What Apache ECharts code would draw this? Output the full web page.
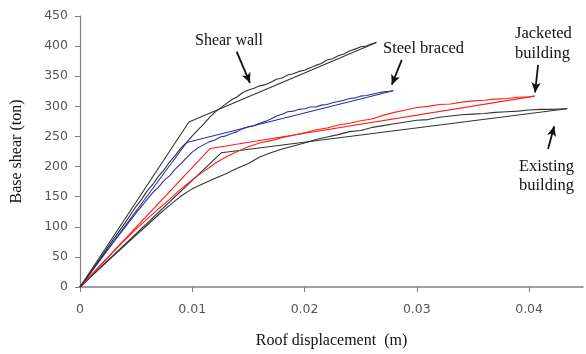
<!DOCTYPE html>
<html><head><meta charset="utf-8">
<script src="https://cdn.jsdelivr.net/npm/echarts@6/dist/echarts.min.js"></script>
<style>html,body{margin:0;padding:0;background:#fff}#c{width:586px;height:354px}</style>
</head><body><div id="c"></div>
<script>
const xTicks = [0, 0.01, 0.02, 0.03, 0.04];
const yTicks = [0, 50, 100, 150, 200, 250, 300, 350, 400, 450];

const shearWallBilinear = [[0,0],[0.0097,274],[0.0264,406]];
const shearWallCurve = [[0,0],[0.001,26],[0.002,53],[0.003,80],[0.004,106],[0.005,134],[0.0055,146],[0.006,160],[0.0065,171],[0.007,184],[0.0075,195],[0.008,208],[0.0085,219],[0.009,231],[0.0095,240],[0.010,251],[0.0105,261],[0.011,270],[0.0115,281],[0.012,290],[0.0125,297],[0.013,304],[0.0135,311],[0.014,316],[0.0145,323],[0.015,327],[0.0155,330],[0.016,334],[0.0165,336],[0.017,340],[0.0175,345],[0.018,347],[0.0185,352],[0.019,354],[0.0195,358],[0.020,360],[0.0205,364],[0.021,368],[0.0215,371],[0.022,377],[0.0225,379],[0.023,384],[0.0235,387],[0.024,392],[0.0245,395],[0.025,399],[0.0255,400],[0.026,404],[0.0264,406]];

const steelBilinear = [[0,0],[0.0095,240],[0.0279,326]];
const steelCurve = [[0,0],[0.001,25],[0.002,50],[0.003,75],[0.004,99],[0.005,123],[0.006,146],[0.0065,157],[0.007,166],[0.0075,177],[0.008,185],[0.0085,196],[0.009,205],[0.0095,215],[0.010,224],[0.0105,231],[0.011,236],[0.0115,241],[0.012,244],[0.0125,249],[0.013,251],[0.0135,255],[0.014,258],[0.0145,263],[0.015,266],[0.0155,268],[0.016,272],[0.0165,275],[0.017,279],[0.0175,284],[0.018,287],[0.0185,291],[0.019,292],[0.0195,295],[0.020,296],[0.0205,299],[0.021,299],[0.0215,302],[0.022,303],[0.0225,306],[0.023,308],[0.0235,310],[0.024,313],[0.0245,314],[0.025,317],[0.0255,318],[0.026,320],[0.0265,322],[0.027,324],[0.0275,325],[0.0279,326]];

const jacketedBilinear = [[0,0],[0.0116,230],[0.0405,317]];
const jacketedCurve = [[0,0],[0.001,20],[0.002,39],[0.003,59],[0.004,78],[0.005,96],[0.006,113],[0.007,130],[0.008,146],[0.009,163],[0.010,178],[0.011,192],[0.0115,198],[0.012,205],[0.013,216],[0.014,225],[0.015,233],[0.016,239],[0.017,243],[0.018,248],[0.019,252],[0.020,256],[0.021,261],[0.022,264],[0.023,269],[0.024,272],[0.025,276],[0.026,279],[0.027,285],[0.028,290],[0.029,294],[0.030,298],[0.031,300],[0.032,303],[0.033,304],[0.034,307],[0.035,309],[0.036,310],[0.037,312],[0.038,313],[0.039,315],[0.040,316],[0.0405,317]];

const existingBilinear = [[0,0],[0.0126,223],[0.0434,296]];
const existingCurve = [[0,0],[0.001,18],[0.002,35],[0.003,52],[0.004,69],[0.005,86],[0.006,103],[0.007,120],[0.008,136],[0.009,151],[0.010,163],[0.011,172],[0.012,180],[0.013,188],[0.014,197],[0.015,205],[0.016,216],[0.017,223],[0.018,229],[0.019,234],[0.020,239],[0.021,245],[0.022,249],[0.023,253],[0.024,258],[0.025,260],[0.026,265],[0.027,268],[0.028,271],[0.029,274],[0.030,277],[0.031,278],[0.032,282],[0.033,284],[0.034,286],[0.035,287],[0.036,288],[0.037,290],[0.038,291],[0.039,292],[0.040,294],[0.041,295],[0.042,295],[0.043,296],[0.0434,296]];

// annotation arrows (data coords: tail -> head)
const arrows = [
  [[0.01395, 391], [0.01514, 339]],
  [[0.02866, 377], [0.02777, 336]],
  [[0.0408, 369], [0.04053, 323]],
  [[0.04169, 229], [0.04223, 267]]
];

const BLACK = '#333333', BLUE = '#3030a0', RED = '#ff1f1f';
const serif = '"Liberation Serif", "Times New Roman", serif';

function line(data, color) {
  return {type: 'line', data: data, showSymbol: false, symbol: 'none', silent: true,
    lineStyle: {color: color, width: 1.1}, animation: false};
}

const chart = echarts.init(document.getElementById('c'), null, {renderer: 'canvas'});
chart.setOption({
  animation: false,
  grid: {left: 80, right: 3, top: 16, bottom: 65, containLabel: false},
  xAxis: {
    type: 'value', min: 0, max: 0.0448,
    name: 'Roof displacement  (m)', nameLocation: 'middle', nameGap: 46,
    nameTextStyle: {fontFamily: serif, fontSize: 16, color: '#111'},
    axisLine: {lineStyle: {color: '#808080', width: 1.5}},
    axisTick: {customValues: xTicks, length: 5, lineStyle: {color: '#808080'}},
    axisLabel: {customValues: xTicks, fontFamily: '"DejaVu Sans", sans-serif', fontSize: 12.5, color: '#555', margin: 16},
    splitLine: {show: false}
  },
  yAxis: {
    type: 'value', min: 0, max: 450, interval: 50,
    name: 'Base shear (ton)', nameLocation: 'middle', nameGap: 55, nameRotate: 90,
    nameTextStyle: {fontFamily: serif, fontSize: 16, color: '#111'},
    axisLine: {show: true, lineStyle: {color: '#808080', width: 1.2}},
    axisTick: {show: true, length: 5, lineStyle: {color: '#808080'}},
    axisLabel: {customValues: yTicks, fontFamily: '"DejaVu Sans", sans-serif', fontSize: 12.5, color: '#555', margin: 12},
    splitLine: {show: false}
  },
  series: [
    line(existingBilinear, BLACK),
    line(existingCurve, BLACK),
    line(jacketedBilinear, RED),
    line(jacketedCurve, RED),
    line(steelBilinear, BLUE),
    line(steelCurve, BLUE),
    line(shearWallBilinear, BLACK),
    line(shearWallCurve, BLACK),
    {
      type: 'line', data: [], silent: true,
      markLine: {
        silent: true, animation: false,
        symbol: ['none', 'arrow'], symbolSize: [7, 10],
        label: {show: false},
        lineStyle: {color: '#111', width: 1.8, type: 'solid'},
        emphasis: {disabled: true},
        data: arrows.map(a => [{coord: a[0]}, {coord: a[1]}])
      }
    }
  ],
  graphic: [
    {type: 'text', left: 195, top: 33, style: {text: 'Shear wall', font: '16px ' + serif, fill: '#111'}},
    {type: 'text', left: 383, top: 40, style: {text: 'Steel braced', font: '16.5px ' + serif, fill: '#111'}},
    {type: 'text', left: 515, top: 24, style: {text: 'Jacketed\nbuilding', font: '16.5px ' + serif, fill: '#111', lineHeight: 20, align: 'center', x: 30}},
    {type: 'text', left: 519, top: 157, style: {text: 'Existing\nbuilding', font: '16.5px ' + serif, fill: '#111', lineHeight: 19}}
  ]
});
</script>
</body></html>
